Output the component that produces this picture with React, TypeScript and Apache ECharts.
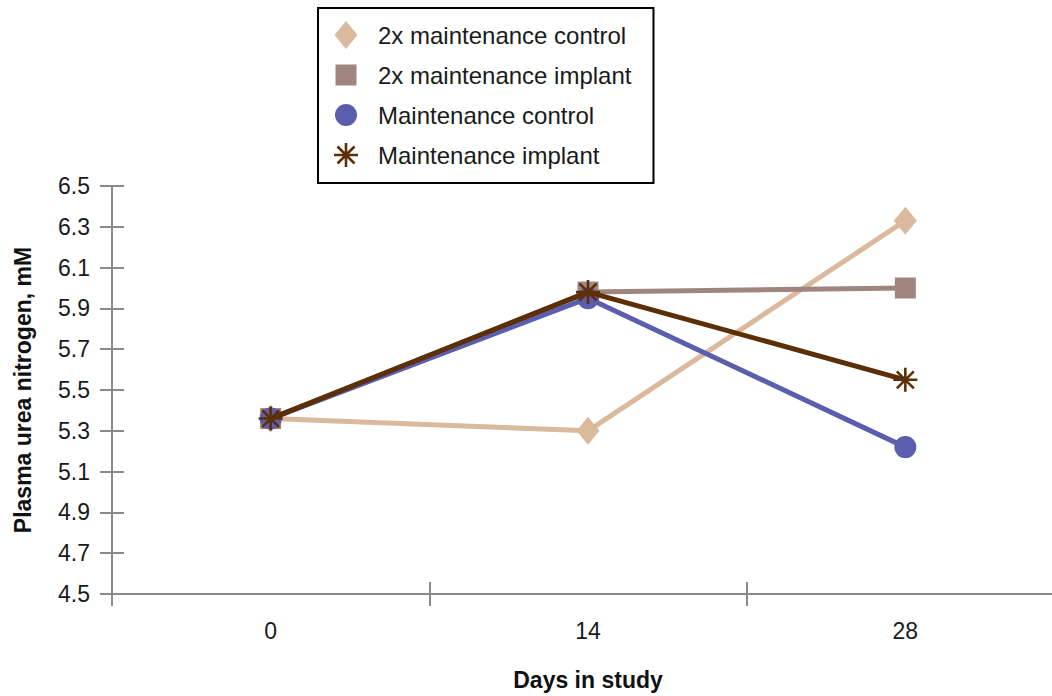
import React, { useEffect, useRef } from "react";
import * as echarts from "echarts";

const days = ["0", "14", "28"];
const seriesNames = [
  "2x maintenance control",
  "2x maintenance implant",
  "Maintenance control",
  "Maintenance implant",
];
const twoXControl = [5.36, 5.3, 6.33];
const twoXImplant = [5.36, 5.98, 6.0];
const maintControl = [5.36, 5.95, 5.22];
const maintImplant = [5.36, 5.98, 5.55];
const yTickValues = [4.5, 4.7, 4.9, 5.1, 5.3, 5.5, 5.7, 5.9, 6.1, 6.3, 6.5];

const colors = ["#dbb99d", "#a0857e", "#5a5ead", "#5c2f07"];

const frame = "M-14,-14M14,14";
const diamond = `path://${frame}M0,-14L11.5,0L0,14L-11.5,0Z`;
const square = `path://${frame}M-10.5,-10.5L10.5,-10.5L10.5,10.5L-10.5,10.5Z`;
const circle = `path://${frame}M-11,0A11,11,0,1,1,11,0A11,11,0,1,1,-11,0Z`;
const asterisk = `path://${frame}M-12,-1.3L12,-1.3L12,1.3L-12,1.3ZM-1.3,-12L1.3,-12L1.3,12L-1.3,12ZM-7.6,-9.4L9.4,7.6L7.6,9.4L-9.4,-7.6ZM-9.4,7.6L7.6,-9.4L9.4,-7.6L-7.6,9.4Z`;
const icons = [diamond, square, circle, asterisk];
const lineWidths = [5, 5, 5, 5];

export default function App() {
  const ref = useRef<HTMLDivElement>(null);
  useEffect(() => {
    if (!ref.current) return;
    const chart = echarts.init(ref.current, undefined, { renderer: "svg" });
    const font = "'Liberation Sans', Arial, Helvetica, sans-serif";
    const axisColor = "#8a8a8a";
    const textColor = "#1a1a1a";
    const values = [twoXControl, twoXImplant, maintControl, maintImplant];
    chart.setOption({
      animation: false,
      textStyle: { fontFamily: font },
      grid: { left: 112, top: 186, right: 0, bottom: 102, containLabel: false },
      legend: {
        orient: "vertical",
        left: 318,
        top: 8,
        itemWidth: 54,
        itemHeight: 28,
        itemGap: 12,
        padding: [13, 22, 14, 14],
        borderColor: "#000",
        borderWidth: 2,
        selectedMode: false,
        textStyle: { fontSize: 24, color: textColor, fontFamily: font },
        itemStyle: { borderWidth: 0 },
        data: seriesNames.map((n, i) => ({ name: n, icon: icons[i] })),
      },
      xAxis: [
        {
          type: "category",
          data: days,
          boundaryGap: true,
          axisLine: { show: true, lineStyle: { color: axisColor, width: 2 } },
          axisTick: { show: true, length: 12, lineStyle: { color: axisColor, width: 2 } },
          axisLabel: { fontSize: 23, color: textColor, margin: 25, fontFamily: font },
          splitLine: { show: false },
          name: "Days in study",
          nameLocation: "middle",
          nameGap: 74,
          nameTextStyle: { fontSize: 23, fontWeight: "bold", color: "#111", fontFamily: font },
        },
        {
          type: "category",
          data: days,
          position: "bottom",
          boundaryGap: true,
          axisLine: { show: false },
          axisTick: { show: true, inside: true, length: 12, lineStyle: { color: axisColor, width: 2 } },
          axisLabel: { show: false },
          splitLine: { show: false },
        },
      ],
      yAxis: [
        {
          type: "value",
          min: 4.5,
          max: 6.5,
          axisLine: { show: true, lineStyle: { color: axisColor, width: 2 } },
          axisTick: {
            show: true,
            length: 12,
            customValues: yTickValues,
            lineStyle: { color: axisColor, width: 2 },
          },
          axisLabel: {
            customValues: yTickValues,
            formatter: (v: number) => v.toFixed(1),
            fontSize: 23,
            color: textColor,
            margin: 22,
            fontFamily: font,
          },
          splitLine: { show: false },
          name: "Plasma urea nitrogen, mM",
          nameLocation: "middle",
          nameGap: 78,
          nameRotate: 90,
          nameTextStyle: { fontSize: 23, fontWeight: "bold", color: "#111", fontFamily: font },
        },
        {
          type: "value",
          min: 4.5,
          max: 6.5,
          position: "left",
          axisLine: { show: false },
          axisTick: {
            show: true,
            inside: true,
            length: 12,
            customValues: yTickValues,
            lineStyle: { color: axisColor, width: 2 },
          },
          axisLabel: { show: false },
          splitLine: { show: false },
        },
      ],
      series: seriesNames.map((name, i) => ({
        name,
        type: "line",
        xAxisIndex: 0,
        yAxisIndex: 0,
        data: values[i],
        symbol: icons[i],
        symbolSize: 28,
        showSymbol: true,
        lineStyle: { color: colors[i], width: lineWidths[i] },
        itemStyle: { color: colors[i], borderWidth: 0 },
        z: 2 + i,
      })),
    });
    return () => chart.dispose();
  }, []);
  return (
    <div
      style={{
        position: "absolute",
        left: 0,
        top: 0,
        width: 1052,
        height: 696,
        overflow: "hidden",
        background: "#fff",
      }}
    >
      <div ref={ref} style={{ width: 1064, height: 696 }} />
    </div>
  );
}
